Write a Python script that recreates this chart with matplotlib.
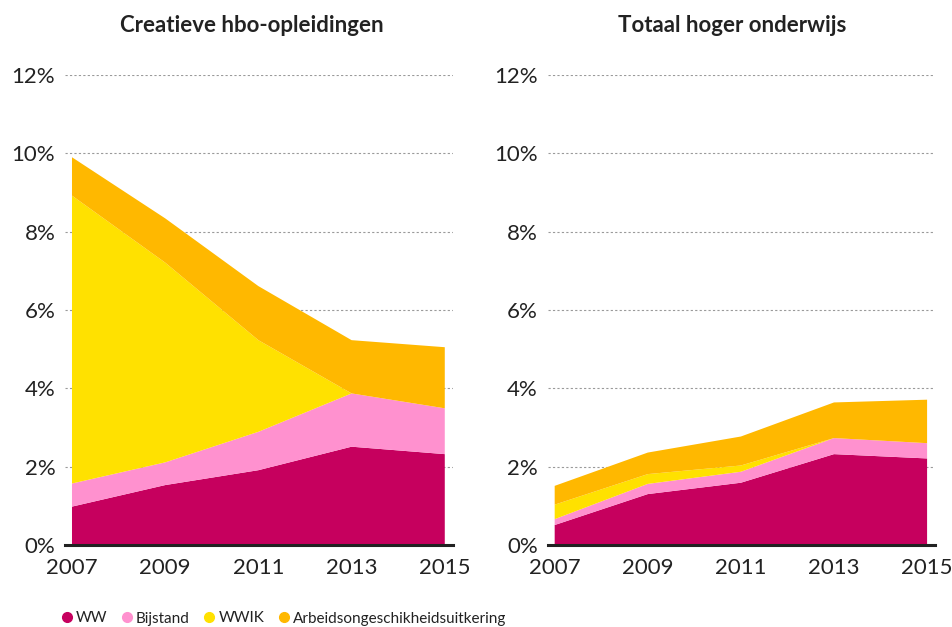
import matplotlib
matplotlib.use("Agg")
import matplotlib.pyplot as plt
from matplotlib.lines import Line2D

plt.rcParams['font.family'] = ['Lato', 'DejaVu Sans']

years = [2007, 2009, 2011, 2013, 2015]
series_names = ["WW", "Bijstand", "WWIK", "Arbeidsongeschikheidsuitkering"]
colors = ["#C6005E", "#FF91CF", "#FFE100", "#FFB800"]

# Creatieve hbo-opleidingen (percentages)
hbo_ww = [0.98, 1.53, 1.91, 2.51, 2.32]
hbo_bijstand = [0.59, 0.58, 0.98, 1.36, 1.17]
hbo_wwik = [7.35, 5.10, 2.34, 0.0, 0.0]
hbo_arbeid = [0.98, 1.13, 1.38, 1.36, 1.56]

# Totaal hoger onderwijs (percentages)
tot_ww = [0.51, 1.30, 1.59, 2.32, 2.21]
tot_bijstand = [0.15, 0.26, 0.28, 0.41, 0.39]
tot_wwik = [0.37, 0.25, 0.16, 0.0, 0.0]
tot_arbeid = [0.48, 0.55, 0.74, 0.91, 1.11]

titles = ["Creatieve hbo-opleidingen", "Totaal hoger onderwijs"]
yticks = [0, 2, 4, 6, 8, 10, 12]
ytick_labels = ["0%", "2%", "4%", "6%", "8%", "10%", "12%"]

fig = plt.figure(figsize=(9.53, 6.27), dpi=100)
W, H = 953, 627
ax1 = fig.add_axes([65 / W, 1 - 545 / H, (452.7 - 65) / W, (545 - 75) / H])
ax2 = fig.add_axes([547.7 / W, 1 - 545 / H, (935 - 547.7) / W, (545 - 75) / H])

data = [
    [hbo_ww, hbo_bijstand, hbo_wwik, hbo_arbeid],
    [tot_ww, tot_bijstand, tot_wwik, tot_arbeid],
]

for ax, d in zip([ax1, ax2], data):
    ax.stackplot(years, *d, colors=colors, linewidth=0, zorder=2)
    ax.set_xlim(2006.85, 2015.17)
    ax.set_ylim(0, 12)
    ax.set_yticks(yticks)
    ax.set_yticklabels(ytick_labels)
    ax.set_xticks(years)
    ax.set_xticklabels([str(y) for y in years])
    for y in yticks[1:]:
        ax.axhline(y, color="#9a9a9a", linestyle=(0, (2, 2)), linewidth=0.8, zorder=1)
    for s in ["top", "right", "left"]:
        ax.spines[s].set_visible(False)
    ax.spines["bottom"].set_linewidth(2.2)
    ax.spines["bottom"].set_color("#222222")
    ax.spines["bottom"].set_zorder(3)
    ax.tick_params(axis="both", length=0, labelsize=16, colors="#222222")
    ax.tick_params(axis="y", pad=7)
    ax.tick_params(axis="x", pad=9)

fig.text(252 / W, 1 - 25 / H, titles[0], ha="center", va="center",
         fontsize=16, fontweight="bold", color="#222222")
fig.text(732.5 / W, 1 - 25 / H, titles[1], ha="center", va="center",
         fontsize=16, fontweight="bold", color="#222222")

# legend drawn manually: circle + label, spaced by rendered text widths
fig.canvas.draw()
renderer = fig.canvas.get_renderer()
x = 67.0
yc = 1 - 617 / H
for name, c in zip(series_names, colors):
    fig.add_artist(Line2D([x / W], [yc], marker="o", linestyle="none",
                          markersize=7, markerfacecolor=c, markeredgecolor=c,
                          transform=fig.transFigure))
    t = fig.text((x + 9) / W, yc, name, ha="left", va="center_baseline",
                 fontsize=11, color="#222222")
    bb = t.get_window_extent(renderer)
    x = bb.x1 + 19.5

fig.savefig("out.png", dpi=100)
